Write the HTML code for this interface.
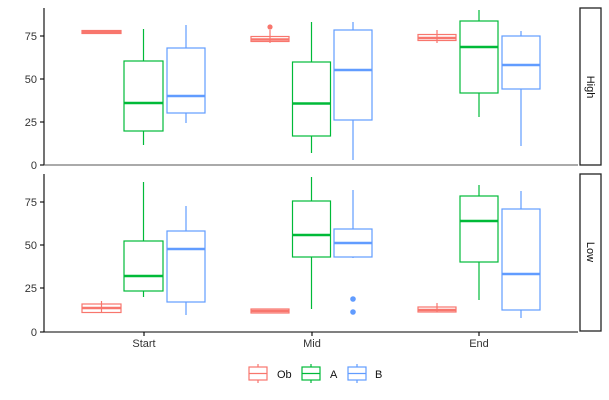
<!DOCTYPE html>
<html><head><style>body{margin:0;background:#fff}svg{display:block}text{font-family:"Liberation Sans",sans-serif}</style></head><body>
<svg width="609" height="400" xmlns="http://www.w3.org/2000/svg" font-size="11" fill="none">
<!-- axes -->
<g stroke="#000" stroke-width="1.1">
<line x1="44" y1="8" x2="44" y2="165"/><line x1="44" y1="332" x2="44" y2="174"/>
<line x1="44" y1="332" x2="578" y2="332"/>
<line x1="40" y1="165" x2="44" y2="165"/><line x1="40" y1="122" x2="44" y2="122"/><line x1="40" y1="79" x2="44" y2="79"/><line x1="40" y1="36" x2="44" y2="36"/>
<line x1="40" y1="332" x2="44" y2="332"/><line x1="40" y1="288" x2="44" y2="288"/><line x1="40" y1="245" x2="44" y2="245"/><line x1="40" y1="202" x2="44" y2="202"/>
<line x1="144" y1="332" x2="144" y2="336"/><line x1="312" y1="332" x2="312" y2="336"/><line x1="479" y1="332" x2="479" y2="336"/>
</g>
<line x1="44" y1="165" x2="578" y2="165" stroke="#555" stroke-width="1"/>
<rect x="580" y="8" width="21" height="157" stroke="#222" stroke-width="1.3"/>
<rect x="580" y="174" width="21" height="157" stroke="#222" stroke-width="1.3"/>
<g fill="#333" text-anchor="end">
<text x="37" y="169">0</text><text x="37" y="126">25</text><text x="37" y="83">50</text><text x="37" y="40">75</text>
<text x="37" y="336">0</text><text x="37" y="292">25</text><text x="37" y="249">50</text><text x="37" y="206">75</text>
</g>
<g fill="#333" text-anchor="middle">
<text x="144" y="347">Start</text><text x="312" y="347">Mid</text><text x="479" y="347">End</text>
</g>
<text fill="#111" font-size="11" transform="translate(587,87) rotate(90)" text-anchor="middle">High</text>
<text fill="#111" font-size="11" transform="translate(587,252) rotate(90)" text-anchor="middle">Low</text>
<!-- red -->
<g stroke="#F8766D" stroke-width="1.2">
<line x1="101.5" y1="30" x2="101.5" y2="34"/><rect x="82" y="30.5" width="39" height="3"/><line x1="82" y1="32" x2="121" y2="32" stroke-width="2.4"/>
<line x1="270" y1="30" x2="270" y2="43"/><rect x="251" y="36.5" width="38" height="5"/><line x1="251" y1="39.5" x2="289" y2="39.5" stroke-width="2.4"/>
<line x1="437" y1="30" x2="437" y2="43"/><rect x="418" y="34.5" width="38" height="6"/><line x1="418" y1="38" x2="456" y2="38" stroke-width="2.4"/>
<line x1="101.5" y1="301" x2="101.5" y2="313"/><rect x="82" y="304" width="39" height="8.5"/><line x1="82" y1="308" x2="121" y2="308" stroke-width="2.4"/>
<rect x="251" y="309" width="38" height="4"/><line x1="251" y1="311" x2="289" y2="311" stroke-width="2.4"/>
<line x1="437" y1="303" x2="437" y2="312"/><rect x="418" y="307" width="38" height="5"/><line x1="418" y1="310" x2="456" y2="310" stroke-width="2.4"/>
</g>
<circle cx="270" cy="27" r="2.6" fill="#F8766D"/>
<!-- green -->
<g stroke="#00BA38" stroke-width="1.2" fill="#fff">
<line x1="143.5" y1="29" x2="143.5" y2="145"/><rect x="124" y="61" width="39" height="70"/><line x1="124" y1="103" x2="163" y2="103" stroke-width="2.4"/>
<line x1="311.5" y1="22" x2="311.5" y2="153"/><rect x="292.5" y="62" width="38" height="74"/><line x1="292.5" y1="103.5" x2="330.5" y2="103.5" stroke-width="2.4"/>
<line x1="479" y1="10" x2="479" y2="117"/><rect x="460" y="21" width="38" height="72"/><line x1="460" y1="47" x2="498" y2="47" stroke-width="2.4"/>
<line x1="143.5" y1="182" x2="143.5" y2="297"/><rect x="124" y="241" width="39" height="50"/><line x1="124" y1="276" x2="163" y2="276" stroke-width="2.4"/>
<line x1="311.5" y1="177" x2="311.5" y2="309"/><rect x="292.5" y="201" width="38" height="56"/><line x1="292.5" y1="235" x2="330.5" y2="235" stroke-width="2.4"/>
<line x1="479" y1="185" x2="479" y2="300"/><rect x="460" y="196" width="38" height="66"/><line x1="460" y1="221" x2="498" y2="221" stroke-width="2.4"/>
</g>
<!-- blue -->
<g stroke="#619CFF" stroke-width="1.2" fill="#fff">
<line x1="186" y1="25" x2="186" y2="123"/><rect x="167" y="48" width="38" height="65"/><line x1="167" y1="96" x2="205" y2="96" stroke-width="2.4"/>
<line x1="353" y1="22" x2="353" y2="160"/><rect x="334" y="30" width="38" height="90"/><line x1="334" y1="70" x2="372" y2="70" stroke-width="2.4"/>
<line x1="521" y1="31" x2="521" y2="146"/><rect x="502" y="36" width="38" height="53"/><line x1="502" y1="65" x2="540" y2="65" stroke-width="2.4"/>
<line x1="186" y1="206" x2="186" y2="315"/><rect x="167" y="231" width="38" height="71"/><line x1="167" y1="249" x2="205" y2="249" stroke-width="2.4"/>
<line x1="353" y1="190" x2="353" y2="258"/><rect x="334" y="229" width="38" height="28"/><line x1="334" y1="243" x2="372" y2="243" stroke-width="2.4"/>
<line x1="521" y1="191" x2="521" y2="318"/><rect x="502" y="209" width="38" height="101"/><line x1="502" y1="274" x2="540" y2="274" stroke-width="2.4"/>
</g>
<circle cx="353" cy="299" r="2.8" fill="#619CFF"/><circle cx="353" cy="312" r="2.8" fill="#619CFF"/>
<!-- legend -->
<g stroke-width="1.2">
<g stroke="#F8766D"><line x1="258" y1="364" x2="258" y2="383"/><rect x="249" y="367" width="18" height="13" fill="#fff"/><line x1="249" y1="373.5" x2="267" y2="373.5"/></g>
<g stroke="#00BA38"><line x1="311" y1="364" x2="311" y2="383"/><rect x="302" y="367" width="18" height="13" fill="#fff"/><line x1="302" y1="373.5" x2="320" y2="373.5"/></g>
<g stroke="#619CFF"><line x1="357" y1="364" x2="357" y2="383"/><rect x="348" y="367" width="18" height="13" fill="#fff"/><line x1="348" y1="373.5" x2="366" y2="373.5"/></g>
</g>
<g fill="#111"><text x="277" y="378">Ob</text><text x="330" y="378">A</text><text x="375" y="378">B</text></g>
</svg>
</body></html>
